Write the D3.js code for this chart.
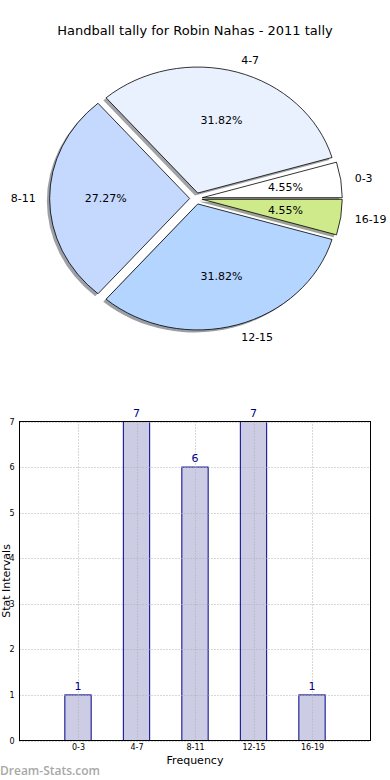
<!DOCTYPE html>
<html><head><meta charset="utf-8">
<script src="https://cdn.jsdelivr.net/npm/d3@7/dist/d3.min.js"></script>
<style>body{margin:0;background:#fff}svg{display:block;font-family:"DejaVu Sans",sans-serif}</style>
</head><body>
<svg id="c" width="390" height="780"></svg>
<script>
const title = "Handball tally for Robin Nahas - 2011 tally";
const categories = ["0-3","4-7","8-11","12-15","16-19"];
const counts = [1,7,6,7,1];
const sliceColors = ["#ffffff","#e9f1ff","#c5d9ff","#b4d5ff","#cfea8b"];
const yTicks = [0,1,2,3,4,5,6,7];

const svg = d3.select("#c");
svg.append("text").attr("x",195).attr("y",35).attr("text-anchor","middle")
  .attr("font-size",13).attr("fill","#000").text(title);

// ---- Pie (elliptical, like a non-equal-aspect matplotlib pie) ----
const cx=196, cy=198.5, rx=140, ry=126, explode=0.045;
const total = d3.sum(counts);
const pie = d3.pie().sort(null).value(d=>d)
  .startAngle(Math.PI/2).endAngle(Math.PI/2 - 2*Math.PI); // ccw from 3 o'clock
const arcs = pie(counts);
const arc = d3.arc().innerRadius(0).outerRadius(1);
const g = svg.append("g");
function mid(a){ return (a.startAngle+a.endAngle)/2; }
arcs.forEach((a,i)=>{
  const m = mid(a);
  const ox = Math.sin(m)*explode*rx, oy = -Math.cos(m)*explode*ry;
  const path = arc({startAngle:a.startAngle,endAngle:a.endAngle});
  const c = d3.rgb(sliceColors[i]);
  g.append("path").attr("d",path)
    .attr("transform",`translate(${cx+ox-2.8},${cy+oy+2.5}) scale(${rx},${ry})`)
    .attr("fill",d3.rgb(c.r*0.3,c.g*0.3,c.b*0.3)).attr("fill-opacity",0.5)
    .attr("stroke","none");
});
arcs.forEach((a,i)=>{
  const m = mid(a);
  const ox = Math.sin(m)*explode*rx, oy = -Math.cos(m)*explode*ry;
  const path = arc({startAngle:a.startAngle,endAngle:a.endAngle});
  g.append("path").attr("d",path)
    .attr("transform",`translate(${cx+ox},${cy+oy}) scale(${rx},${ry})`)
    .attr("fill",sliceColors[i]).attr("stroke","#000")
    .attr("stroke-width",0.8).attr("vector-effect","non-scaling-stroke");
});
arcs.forEach((a,i)=>{
  const m = mid(a);
  const sx=Math.sin(m), sy=-Math.cos(m);
  const lr = 1.1+explode, pr = 0.6+explode;
  const lx = cx+sx*lr*rx, ly = cy+sy*lr*ry;
  g.append("text").attr("x",lx).attr("y",ly).attr("dy","0.35em")
    .attr("text-anchor", sx>=0?"start":"end").attr("font-size",11)
    .text(categories[i]);
  g.append("text").attr("x",cx+sx*pr*rx).attr("y",cy+sy*pr*ry).attr("dy","0.35em")
    .attr("text-anchor","middle").attr("font-size",11)
    .text((counts[i]/total*100).toFixed(2)+"%");
});

// ---- Bar chart ----
const L=19.5, R=370.5, T=421.5, B=740.5;
const x = d3.scaleLinear().domain([-1,5]).range([L,R]);
const y = d3.scaleLinear().domain([0,7]).range([B,T]);
const bw = x(0.45)-x(0);
const bg = svg.append("g");
bg.selectAll("rect.bar").data(counts).join("rect")
  .attr("x",(d,i)=>x(i)-bw/2).attr("y",d=>y(d))
  .attr("width",bw).attr("height",d=>y(0)-y(d))
  .attr("fill","#ccccE4").attr("stroke","#00008b").attr("stroke-width",1);
bg.selectAll("line.gy").data(yTicks).join("line")
  .attr("x1",L).attr("x2",R).attr("y1",d=>Math.round(y(d))+0.5).attr("y2",d=>Math.round(y(d))+0.5)
  .attr("stroke","#b0b0b0").attr("stroke-width",1).attr("stroke-dasharray","1,2");
bg.selectAll("line.gx").data([0,1,2,3,4]).join("line")
  .attr("y1",T).attr("y2",B).attr("x1",d=>Math.round(x(d))+0.5).attr("x2",d=>Math.round(x(d))+0.5)
  .attr("stroke","#b0b0b0").attr("stroke-width",1).attr("stroke-dasharray","1,2");
bg.append("rect").attr("x",L).attr("y",T).attr("width",R-L).attr("height",B-T)
  .attr("fill","none").attr("stroke","#000").attr("stroke-width",1);
const ya = d3.axisLeft(y).tickValues(yTicks).tickFormat(d3.format("d")).tickSize(0).tickPadding(5);
bg.append("g").attr("transform",`translate(${L},0)`).call(ya)
  .call(s=>{s.select(".domain").remove();s.selectAll("text").attr("font-size",8).attr("font-family","DejaVu Sans, sans-serif").attr("fill","#000");});
const xa = d3.axisBottom(x).tickValues([0,1,2,3,4]).tickFormat(i=>categories[i]).tickSize(0).tickPadding(4);
bg.append("g").attr("transform",`translate(0,${B})`).call(xa)
  .call(s=>{s.select(".domain").remove();s.selectAll("text").attr("font-size",8).attr("font-family","DejaVu Sans, sans-serif").attr("fill","#000");});
bg.selectAll("text.val").data(counts).join("text")
  .attr("x",(d,i)=>x(i)).attr("y",d=>y(d)-5).attr("text-anchor","middle")
  .attr("font-size",11).attr("fill","#00008b").text(d=>d);
svg.append("text").attr("x",195).attr("y",764).attr("text-anchor","middle").attr("font-size",11).text("Frequency");
svg.append("text").attr("transform","translate(9.5,581) rotate(-90)").attr("text-anchor","middle")
  .attr("font-size",11).text("Stat Intervals");
svg.append("text").attr("x",0).attr("y",775).attr("font-size",12).attr("font-weight","600")
  .attr("fill","#a8a8a8").attr("font-family","'Open Sans',sans-serif").text("Dream-Stats.com");
</script>
</body></html>
